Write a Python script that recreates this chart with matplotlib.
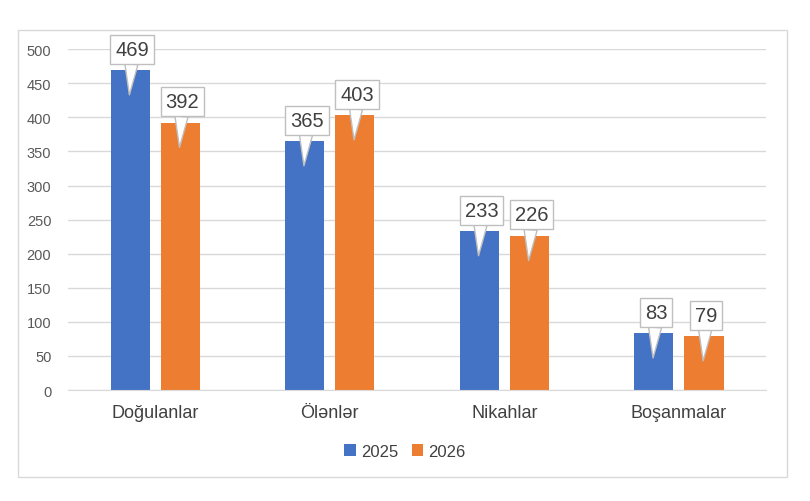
import matplotlib
matplotlib.use("Agg")
import matplotlib.pyplot as plt
import numpy as np
from matplotlib.patches import Rectangle

categories = ["Doğulanlar", "Ölənlər", "Nikahlar", "Boşanmalar"]
series_names = ["2025", "2026"]
values_2025 = [469, 365, 233, 83]
values_2026 = [392, 403, 226, 79]
yticks = [0, 50, 100, 150, 200, 250, 300, 350, 400, 450, 500]

colors = ["#4472C4", "#ED7D31"]
plt.rcParams['font.family'] = ['Liberation Sans', 'DejaVu Sans']

fig = plt.figure(figsize=(8.1, 5.02), dpi=100)
fig.patches.append(Rectangle((0.022, 0.048), 0.950, 0.890, transform=fig.transFigure,
                             fill=False, edgecolor="#D9D9D9", linewidth=1.0))
ax = fig.add_axes([0.084, 0.221, 0.862, 0.679])

x = np.arange(len(categories))
w = 0.224
gap = 0.063
offs = [-(w + gap) / 2, (w + gap) / 2]
for vals, off, c, name in zip([values_2025, values_2026], offs, colors, series_names):
    ax.bar(x + off, vals, width=w, color=c, label=name, zorder=2)
    for xi, v in zip(x + off, vals):
        ax.annotate(str(v), xy=(xi - 0.005, v - 36), xycoords="data",
                    xytext=(xi + 0.012, v + 31), textcoords="data",
                    fontsize=14.5, color="#404040", ha="center", va="center",
                    bbox=dict(boxstyle="square,pad=0.25", fc="white", ec="#BFBFBF", lw=1.0),
                    arrowprops=dict(arrowstyle="wedge,tail_width=0.65,shrink_factor=0.5",
                                    fc="white", ec="#BFBFBF", lw=1.0, shrinkA=0, shrinkB=0),
                    zorder=5, annotation_clip=False)

ax.set_xlim(-0.5, len(categories) - 0.5)
ax.set_ylim(0, 500)
ax.set_yticks(yticks)
ax.set_xticks(x)
ax.set_xticklabels(categories, fontsize=13, color="#404040")
ax.tick_params(axis="y", labelsize=10.5, labelcolor="#595959", length=0, pad=12)
ax.tick_params(axis="x", length=0, pad=10)
ax.grid(axis="y", color="#D9D9D9", linewidth=1.0, zorder=0)
ax.set_axisbelow(True)
for s in ["top", "right", "left"]:
    ax.spines[s].set_visible(False)
ax.spines["bottom"].set_color("#D9D9D9")

leg = fig.legend(loc="center", bbox_to_anchor=(0.5, 0.099), ncol=2, frameon=False,
                 fontsize=12, handlelength=0.7, handleheight=0.7, handletextpad=0.3,
                 columnspacing=0.8, labelcolor="#404040")

fig.savefig("out.png", dpi=100)
